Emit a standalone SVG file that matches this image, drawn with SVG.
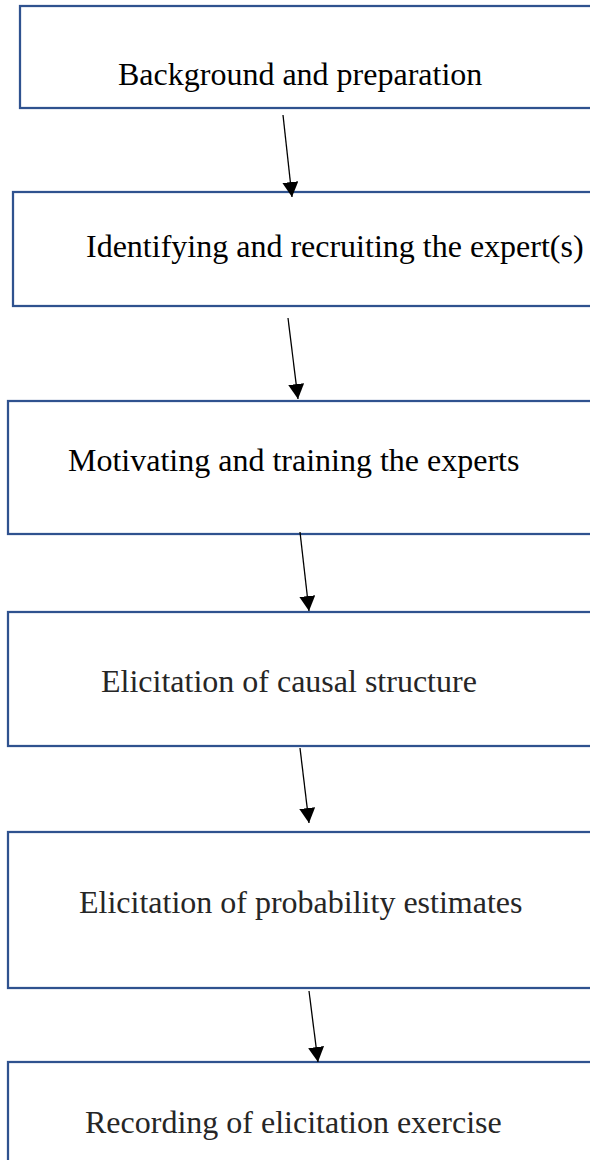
<svg xmlns="http://www.w3.org/2000/svg" width="590" height="1160" viewBox="0 0 590 1160">
  <style>
    .box { fill: #ffffff; stroke: #2F528F; stroke-width: 2.25; }
    .label { font-family: "Liberation Serif", "Times New Roman", serif; font-size: 32px; fill: #000000; }
    .label.soft { fill: #262626; }
    .link { stroke: #000000; stroke-width: 1.3; fill: none; marker-end: url(#head); }
  </style>
  <defs>
    <marker id="head" markerUnits="userSpaceOnUse" markerWidth="16" markerHeight="16" refX="15" refY="8" orient="auto">
      <path d="M0,0 L15,8 L0,16 Z" fill="#000000"/>
    </marker>
  </defs>
  <rect width="590" height="1160" fill="#ffffff"/>

  <g id="node-background">
    <rect class="box" x="20" y="6" width="600" height="102"/>
    <text class="label" x="118" y="85">Background and preparation</text>
  </g>
  <g id="node-recruiting">
    <rect class="box" x="13" y="192" width="600" height="114"/>
    <text class="label" x="86" y="257">Identifying and recruiting the expert(s)</text>
  </g>
  <g id="node-training">
    <rect class="box" x="8" y="401" width="600" height="133"/>
    <text class="label" x="68" y="471">Motivating and training the experts</text>
  </g>
  <g id="node-structure">
    <rect class="box" x="8" y="612" width="600" height="134"/>
    <text class="label soft" x="101" y="692">Elicitation of causal structure</text>
  </g>
  <g id="node-probability">
    <rect class="box" x="8" y="832" width="600" height="156"/>
    <text class="label soft" x="79" y="913">Elicitation of probability estimates</text>
  </g>
  <g id="node-recording">
    <rect class="box" x="8" y="1062" width="600" height="140"/>
    <text class="label soft" x="85" y="1133">Recording of elicitation exercise</text>
  </g>

  <g id="connectors">
    <line class="link" x1="283" y1="115" x2="292" y2="197"/>
    <line class="link" x1="288" y1="318" x2="298" y2="399"/>
    <line class="link" x1="300" y1="532" x2="309" y2="611"/>
    <line class="link" x1="300" y1="748" x2="309" y2="823"/>
    <line class="link" x1="309" y1="991" x2="318" y2="1062"/>
  </g>
</svg>
